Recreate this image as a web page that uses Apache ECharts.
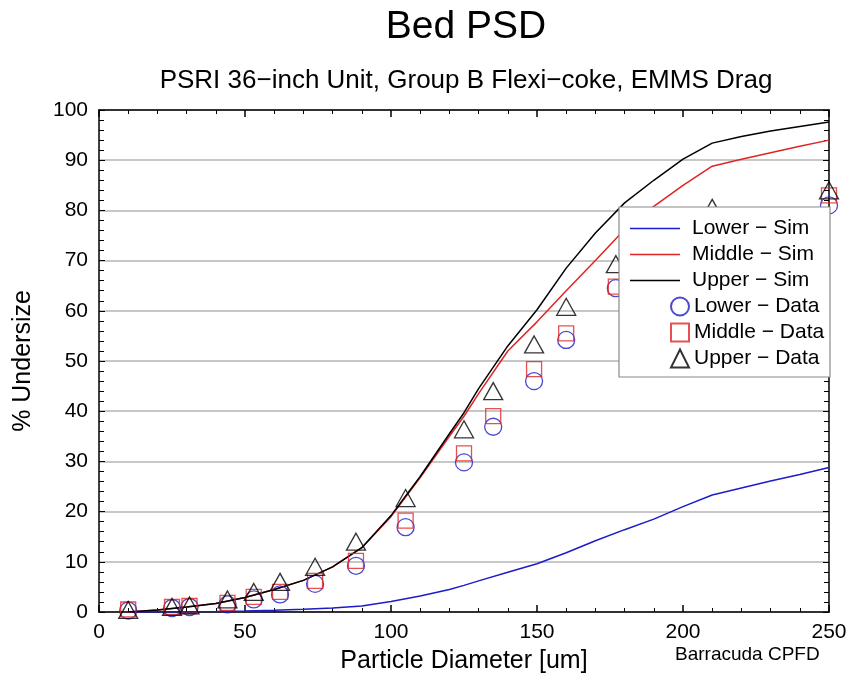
<!DOCTYPE html>
<html>
<head>
<meta charset="utf-8">
<script src="https://cdn.jsdelivr.net/npm/echarts@6/dist/echarts.min.js"></script>
<style>html,body{margin:0;padding:0;background:#fff}#c{width:850px;height:673px}</style>
</head>
<body>
<div id="c"></div>
<script>
// Simulation curves (x in um, y in % undersize)
var simX      = [10, 20, 30, 40, 50, 60, 70, 80, 90, 100, 110, 120, 125, 130, 140, 150, 160, 170, 180, 190, 200, 210, 220, 230, 240, 250];
var lowerSim  = [0, 0, 0.05, 0.1, 0.2, 0.35, 0.55, 0.8, 1.2, 2.1, 3.2, 4.5, 5.3, 6.2, 7.9, 9.6, 11.8, 14.2, 16.4, 18.5, 21, 23.3, 24.7, 26.1, 27.4, 28.8];
var middleSim = [0, 0.4, 1.0, 1.7, 2.9, 4.5, 6.3, 9.0, 12.8, 19.0, 26.8, 35.0, 39.0, 43.5, 52.0, 57.8, 64.0, 70.0, 76.2, 80.8, 85.0, 88.8, 90.2, 91.5, 92.8, 94.0];
var upperSim  = [0, 0.4, 1.0, 1.7, 2.9, 4.5, 6.3, 9.0, 12.8, 19.2, 27.0, 35.5, 39.7, 44.5, 53.0, 60.2, 68.5, 75.5, 81.5, 86.0, 90.2, 93.4, 94.7, 95.8, 96.7, 97.6];
// Measured data
var dataX      = [10, 25, 31, 44, 53, 62, 74, 88, 105, 125, 135, 149, 160, 177, 210, 250];
var lowerData  = [0.3, 0.8, 1.0, 1.5, 2.5, 3.5, 5.6, 9.2, 16.9, 29.8, 36.9, 46.0, 54.2, 64.5, 78.0, 81.0];
var middleData = [0.5, 1.0, 1.2, 1.8, 3.0, 4.0, 6.2, 10.2, 18.2, 31.6, 39.0, 48.4, 55.5, 64.8, 79.0, 83.0];
var upperData  = [0.4, 1.0, 1.3, 2.5, 4.0, 6.0, 9.0, 14.0, 22.7, 36.4, 44.0, 53.3, 60.8, 69.3, 80.5, 84.0];
var xTicks = [0, 50, 100, 150, 200, 250];
var yTicks = [0, 10, 20, 30, 40, 50, 60, 70, 80, 90, 100];

function zip(xs, ys){ return xs.map(function(x,i){ return [x, ys[i]]; }); }

var FONT = 'Liberation Sans, Arial, Helvetica, sans-serif';
var BLUE = '#1c1cc8', RED = '#e02424', BLACK = '#000000';

function mkX(pos, withLabels){
  var a = {
    type: 'value', min: 0, max: 250, interval: 50, position: pos, gridIndex: 0,
    axisLine: {show: true, onZero: false, lineStyle: {color: '#000', width: 1.5}},
    axisTick: {show: true, inside: true, length: 7, lineStyle: {color: '#000', width: 1.5}},
    minorTick: {show: true, splitNumber: 5, length: 4, lineStyle: {color: '#000', width: 1}},
    splitLine: {show: false},
    axisLabel: {show: withLabels, inside: false, fontFamily: FONT, fontSize: 21, color: '#000', margin: 10,
      formatter: function(v){ return xTicks.indexOf(v) >= 0 ? String(v) : ''; }}
  };
  if (withLabels) {
    a.name = 'Particle Diameter [um]'; a.nameLocation = 'middle'; a.nameGap = 37;
    a.nameTextStyle = {fontFamily: FONT, fontSize: 25, color: '#000'};
  }
  return a;
}
function mkY(pos, withLabels){
  var a = {
    type: 'value', min: 0, max: 100, interval: 10, position: pos, gridIndex: 0,
    axisLine: {show: true, onZero: false, lineStyle: {color: '#000', width: 1.5}},
    axisTick: {show: true, inside: true, length: 6, lineStyle: {color: '#000', width: 1}},
    minorTick: {show: true, splitNumber: 5, length: 5, lineStyle: {color: '#000', width: 1}},
    splitLine: {show: withLabels, lineStyle: {color: '#b4b4b4', width: 1.5}},
    axisLabel: {show: withLabels, inside: false, fontFamily: FONT, fontSize: 21, color: '#000', margin: 11,
      formatter: function(v){ return yTicks.indexOf(v) >= 0 ? String(v) : ''; }}
  };
  if (withLabels) {
    a.name = '% Undersize'; a.nameLocation = 'middle'; a.nameGap = 63; a.nameRotate = 90;
    a.nameTextStyle = {fontFamily: FONT, fontSize: 25, color: '#000'};
  }
  return a;
}

var chart = echarts.init(document.getElementById('c'));
chart.setOption({
  animation: false,
  backgroundColor: '#fff',
  textStyle: {fontFamily: FONT},
  title: [
    {text: 'Bed PSD', left: 461, top: 3, textAlign: 'center',
     textStyle: {fontFamily: FONT, fontSize: 39, fontWeight: 'normal', color: '#000'}},
    {text: 'PSRI 36\u2212inch Unit, Group B Flexi\u2212coke, EMMS Drag', left: 461, top: 63, textAlign: 'center',
     textStyle: {fontFamily: FONT, fontSize: 26, fontWeight: 'normal', color: '#000'}}
  ],
  grid: {left: 99, right: 21, top: 110, bottom: 61, containLabel: false, outerBoundsMode: 'none'},
  xAxis: [mkX('bottom', true), mkX('top', false)],
  yAxis: [mkY('left', true), mkY('right', false)],
  legend: [
    {data: [{name: 'Lower \u2212 Sim', icon: 'rect'}, {name: 'Middle \u2212 Sim', icon: 'rect'}, {name: 'Upper \u2212 Sim', icon: 'rect'}],
     orient: 'vertical', left: 630, top: 218, itemWidth: 50, itemHeight: 1.6, itemGap: 5, padding: 0,
     textStyle: {fontFamily: FONT, fontSize: 21, color: '#000', padding: [0,0,0,7]},
     z: 6},
    {data: ['Lower \u2212 Data', 'Middle \u2212 Data', 'Upper \u2212 Data'],
     orient: 'vertical', left: 670, top: 296, itemWidth: 18, itemHeight: 18, itemGap: 5, padding: 0,
     textStyle: {fontFamily: FONT, fontSize: 21, color: '#000'},
     z: 6}
  ],
  graphic: [
    {type: 'rect', z: 5, zlevel: 0, shape: {x: 619, y: 207, width: 211, height: 170},
     style: {fill: '#fff', stroke: '#8a8a8a', lineWidth: 1.2}},
    {type: 'text', z: 5, left: 675, top: 645,
     style: {text: 'Barracuda CPFD', font: '19px ' + FONT, fill: '#000'}}
  ],
  series: [
    {name: 'Lower \u2212 Sim', type: 'line', data: zip(simX, lowerSim), showSymbol: false, symbol: 'none',
     lineStyle: {color: BLUE, width: 1.5}, itemStyle: {color: BLUE}, z: 2},
    {name: 'Middle \u2212 Sim', type: 'line', data: zip(simX, middleSim), showSymbol: false, symbol: 'none',
     lineStyle: {color: RED, width: 1.5}, itemStyle: {color: RED}, z: 2},
    {name: 'Upper \u2212 Sim', type: 'line', data: zip(simX, upperSim), showSymbol: false, symbol: 'none',
     lineStyle: {color: BLACK, width: 1.5}, itemStyle: {color: BLACK}, z: 3},
    {name: 'Lower \u2212 Data', type: 'scatter', data: zip(dataX, lowerData), symbol: 'circle', symbolSize: 17,
     itemStyle: {color: 'rgba(0,0,0,0)', borderColor: BLUE, borderWidth: 1.3}, z: 3},
    {name: 'Middle \u2212 Data', type: 'scatter', data: zip(dataX, middleData), symbol: 'rect', symbolSize: 15,
     itemStyle: {color: 'rgba(0,0,0,0)', borderColor: RED, borderWidth: 1.3}, z: 3},
    {name: 'Upper \u2212 Data', type: 'scatter', data: zip(dataX, upperData), symbol: 'triangle', symbolSize: [19, 17],
     itemStyle: {color: 'rgba(0,0,0,0)', borderColor: BLACK, borderWidth: 1.3}, z: 3}
  ]
});
</script>
</body>
</html>
